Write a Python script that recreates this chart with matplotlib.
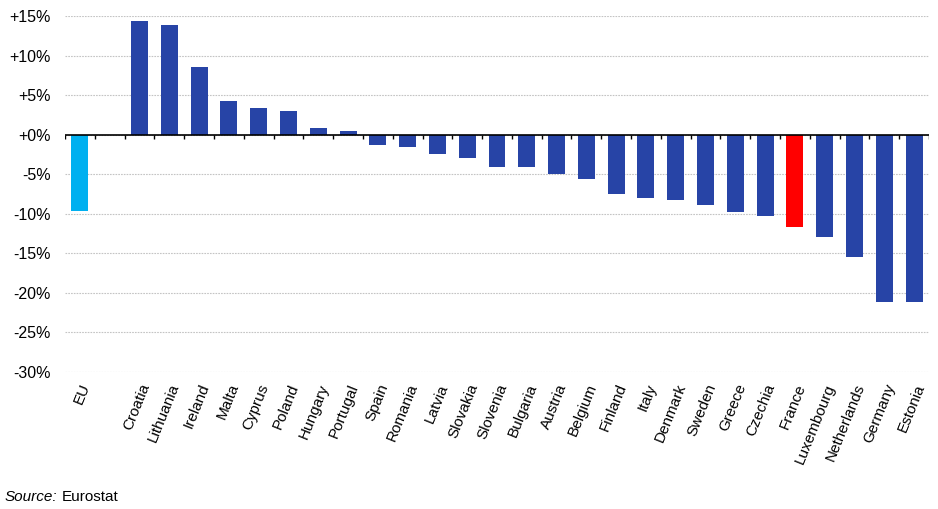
import matplotlib
matplotlib.use("Agg")
import matplotlib.pyplot as plt
import numpy as np

plt.rcParams["font.family"] = ["Liberation Sans", "DejaVu Sans"]

countries = ["EU", "", "Croatia", "Lithuania", "Ireland", "Malta", "Cyprus", "Poland",
             "Hungary", "Portugal", "Spain", "Romania", "Latvia", "Slovakia", "Slovenia",
             "Bulgaria", "Austria", "Belgium", "Finland", "Italy", "Denmark", "Sweden",
             "Greece", "Czechia", "France", "Luxembourg", "Netherlands", "Germany", "Estonia"]
values = [-9.7, np.nan, 14.4, 13.9, 8.6, 4.2, 3.4, 3.0, 0.8, 0.4, -1.3, -1.5, -2.4, -3.0,
          -4.1, -4.1, -5.0, -5.6, -7.5, -8.0, -8.2, -8.9, -9.8, -10.3, -11.7, -12.9,
          -15.5, -21.1, -21.2]
yticks = [15, 10, 5, 0, -5, -10, -15, -20, -25, -30]

BLUE = "#2744A6"
colors = []
for c in countries:
    if c == "EU":
        colors.append("#00B0F0")
    elif c == "France":
        colors.append("#FF0000")
    else:
        colors.append(BLUE)

fig = plt.figure(figsize=(9.38, 5.09), dpi=100)
ax = fig.add_axes([0.0693, 0.2692, 0.9211, 0.6994])

x = np.arange(len(countries))
ax.bar(x, values, width=0.57, color=colors, zorder=3)

ax.set_xlim(-0.5, len(countries) - 0.5)
ax.set_ylim(-30, 15)
ax.set_yticks(yticks)
ax.set_yticklabels([f"{t:+d}%" for t in yticks], fontsize=11.5)
ax.tick_params(axis="y", length=0, pad=10)
ax.yaxis.grid(True, color="#c4c4c4", linestyle=(0, (1.5, 1)), linewidth=0.8)
ax.set_axisbelow(True)
for s in ax.spines.values():
    s.set_visible(False)

# zero line with category boundary ticks
ax.axhline(0, color="black", linewidth=1.2, zorder=4)
ax.vlines(np.arange(len(countries) + 1) - 0.5, -0.55, 0, color="black", linewidth=1, zorder=4)

ax.set_xticks(x)
ax.set_xticklabels(countries, rotation=68, ha="right", rotation_mode="anchor", fontsize=11)
ax.tick_params(axis="x", length=0, pad=7)

fig.text(0.005, 0.015, "Source:", fontsize=11, style="italic")
fig.text(0.066, 0.015, "Eurostat", fontsize=11)

fig.savefig("out.png", dpi=100)
